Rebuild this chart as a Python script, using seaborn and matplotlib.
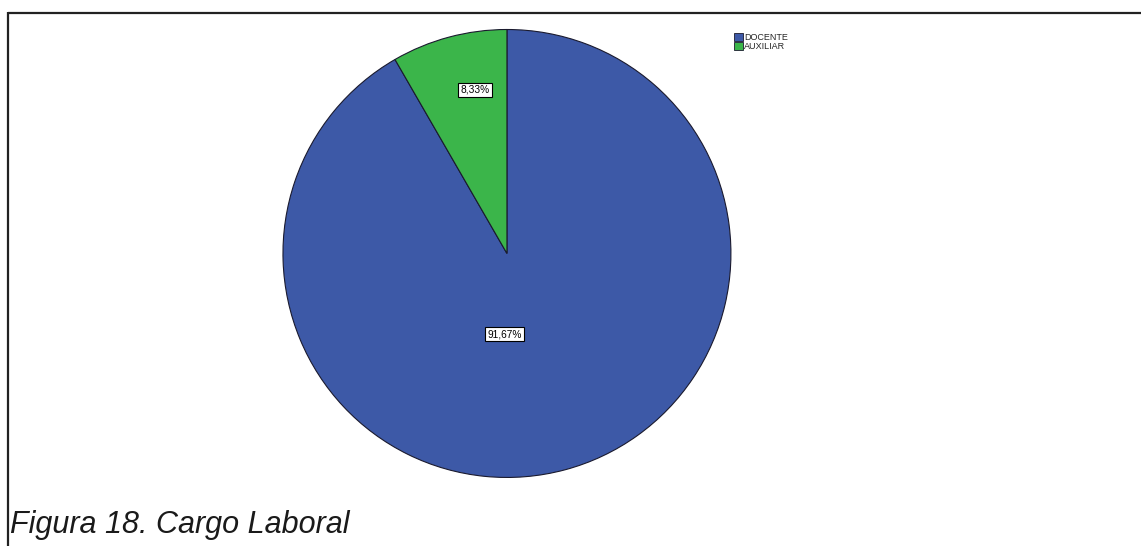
import matplotlib
matplotlib.use("Agg")
import matplotlib.pyplot as plt
import seaborn as sns
from matplotlib.lines import Line2D
from matplotlib.patches import Patch

sns.set_style("white")
plt.rcParams["font.family"] = ["Liberation Sans", "DejaVu Sans"]

CATEGORIES = ["DOCENTE", "AUXILIAR"]
SHARES = [91.67, 8.33]
LABELS = ["91,67%", "8,33%"]
COLORS = ["#3d59a7", "#3bb54a"]
CAPTION = "Figura 18. Cargo Laboral"


def main():
  fig = plt.figure(figsize=(11.41, 5.46), dpi=100)
  ax = fig.add_axes([0.2480, 0.1255, 0.3926, 0.8205])

  wedges, _ = ax.pie(SHARES, colors=COLORS, startangle=90, counterclock=False,
                     wedgeprops=dict(edgecolor="#1a1a2e", linewidth=0.8))
  for w in wedges:
    w.set_clip_on(False)
  ax.set_xlim(-1, 1)
  ax.set_ylim(-1, 1)
  ax.set_aspect("equal")
  ax.axis("off")

  # label spots relative to the pie centre (SPSS puts them roughly here)
  spots = [(-0.01, -0.36), (-0.143, 0.73)]
  for lab, (x, y) in zip(LABELS, spots):
    ax.text(x, y, lab, ha="center", va="center", fontsize=7.3, color="black",
            bbox=dict(boxstyle="square,pad=0.2", fc="white", ec="black", lw=0.8))

  handles = [Patch(facecolor=c, edgecolor="#1a1a2e", linewidth=0.6) for c in COLORS]
  fig.legend(handles, CATEGORIES, loc="upper left", bbox_to_anchor=(729 / 1141, 1 - 28 / 546),
             frameon=False, fontsize=6.5, handlelength=1.0, handleheight=1.0,
             handletextpad=0.2, labelspacing=0.05, borderpad=0)

  # frame lines of the figure box
  fig.add_artist(Line2D([7.5 / 1141, 1], [1 - 12.5 / 546, 1 - 12.5 / 546], color="#222222",
                        lw=1.6, solid_capstyle="butt"))
  fig.add_artist(Line2D([7.5 / 1141, 7.5 / 1141], [0, 1 - 11.5 / 546], color="#222222",
                        lw=1.6, solid_capstyle="butt"))

  fig.text(10 / 1141, 1 - 533 / 546, CAPTION, fontsize=22, style="italic", color="#1a1a1a",
           ha="left", va="baseline")

  fig.savefig("out.png", dpi=100)


if __name__ == "__main__":
  main()
